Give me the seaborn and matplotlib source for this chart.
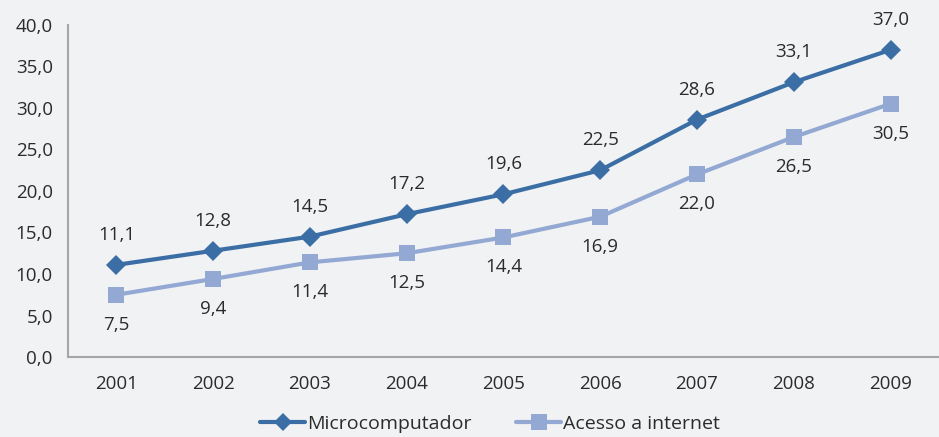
import matplotlib
matplotlib.use('Agg')
import matplotlib.pyplot as plt
import seaborn as sns
import pandas as pd
from matplotlib.lines import Line2D

# data
years = ['2001', '2002', '2003', '2004', '2005', '2006', '2007', '2008', '2009']
micro = [11.1, 12.8, 14.5, 17.2, 19.6, 22.5, 28.6, 33.1, 37.0]
acesso = [7.5, 9.4, 11.4, 12.5, 14.4, 16.9, 22.0, 26.5, 30.5]
series_names = ['Microcomputador', 'Acesso a internet']

bg = '#f1f2f4'
c_micro = '#3b6ea5'
c_acesso = '#93a9d3'
text_c = '#2b2b2b'
axis_c = '#a6a6a6'

sns.set_theme(style='white')
plt.rcParams['font.family'] = ['Open Sans', 'DejaVu Sans']

df = pd.DataFrame({
    'x': list(range(len(years))) * 2,
    'valor': micro + acesso,
    'serie': [series_names[0]] * len(years) + [series_names[1]] * len(years),
})

fig = plt.figure(figsize=(9.39, 4.37), dpi=100)
fig.patch.set_facecolor(bg)
ax = fig.add_axes([0.0724, 0.183, 0.9276, 0.76])
ax.set_facecolor(bg)

sns.lineplot(data=df, x='x', y='valor', hue='serie', style='serie',
             palette=[c_micro, c_acesso], markers=['D', 's'], dashes=False,
             markersize=10, linewidth=3, markeredgewidth=0, ax=ax, legend=False)
ax.lines[1].set_markersize(12)

fmt = lambda v: f'{v:.1f}'.replace('.', ',')

# value labels: above for Microcomputador, below for Acesso
for i, v in enumerate(micro):
    ax.annotate(fmt(v), (i, v), xytext=(0, 15), textcoords='offset points',
                ha='center', va='bottom', fontsize=13.5, color=text_c)
for i, v in enumerate(acesso):
    ax.annotate(fmt(v), (i, v), xytext=(0, -15), textcoords='offset points',
                ha='center', va='top', fontsize=13.5, color=text_c)

ax.set_ylim(0, 40)
ax.set_yticks([0, 5, 10, 15, 20, 25, 30, 35, 40])
ax.set_yticklabels([fmt(t) for t in ax.get_yticks()])
span = (939 - 68) / 98
ax.set_xlim(-0.5, -0.5 + span)
ax.set_xticks(range(len(years)))
ax.set_xticklabels(years)
ax.set_xticks([i + 0.5 for i in range(-1, len(years))], minor=True)
ax.tick_params(axis='x', which='major', length=0, pad=13, labelsize=13.5, labelcolor=text_c)
ax.tick_params(axis='x', which='minor', length=6, width=1.3, color=axis_c, direction='out')
ax.tick_params(axis='y', length=6, width=1.3, color=axis_c, direction='out', pad=5,
               labelsize=13.5, labelcolor=text_c)
ax.set_xlabel('')
ax.set_ylabel('')

for side in ['top', 'right']:
    ax.spines[side].set_visible(False)
for side in ['left', 'bottom']:
    ax.spines[side].set_color(axis_c)
    ax.spines[side].set_linewidth(1.5)

handles = [
    Line2D([], [], color=c_micro, marker='D', markersize=9, linewidth=3, markeredgewidth=0),
    Line2D([], [], color=c_acesso, marker='s', markersize=11, linewidth=3, markeredgewidth=0),
]
fig.legend(handles, series_names, loc='lower center', bbox_to_anchor=(0.522, -0.03),
           ncol=2, frameon=False, fontsize=14, handlelength=2.3, columnspacing=2.3,
           handletextpad=0.1, labelcolor=text_c)

fig.savefig('out.png', dpi=100, facecolor=bg)
